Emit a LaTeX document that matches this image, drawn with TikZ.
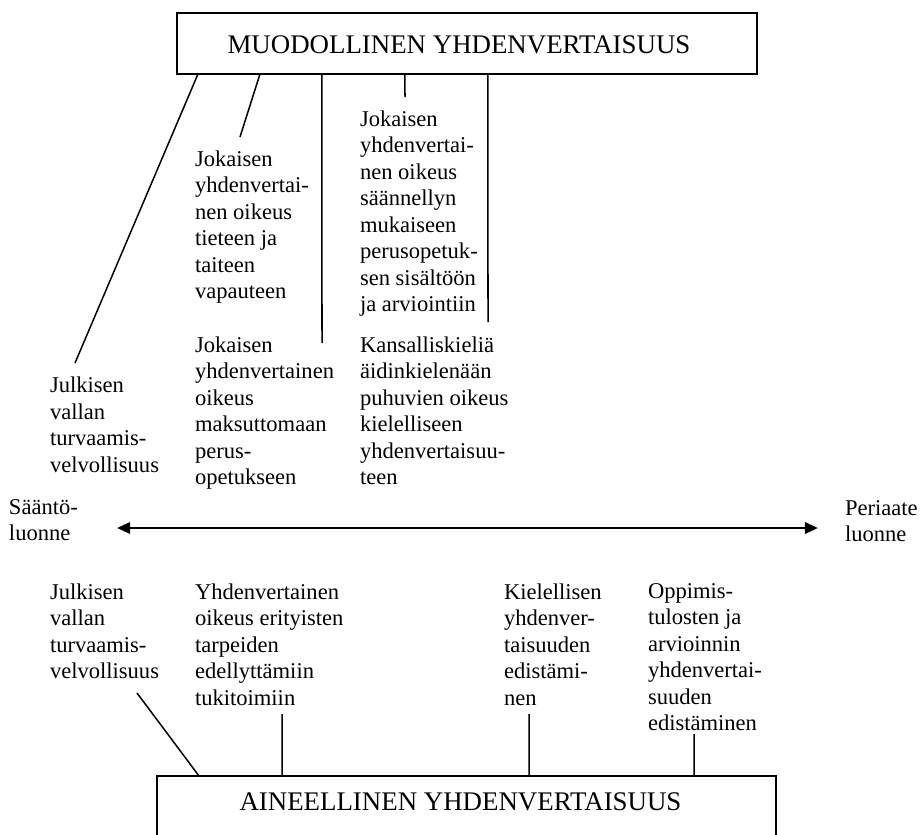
\documentclass[tikz,border=0pt]{standalone}
\usepackage{fontspec}
\setmainfont{Liberation Serif}
\usetikzlibrary{calc,arrows.meta}
\begin{document}
\begin{tikzpicture}[x=0.532pt,y=-0.532pt,
  every node/.style={inner sep=0pt, outer sep=0pt},
  txt/.style={anchor=north west, align=left, font=\fontsize{12}{14.1}\selectfont},
  title/.style={anchor=base, font=\fontsize{14.3}{16}\selectfont},
  frame/.style={draw, line width=1pt, minimum height=32.5pt},
  conn/.style={line width=0.8pt},
  axis/.style={line width=1.4pt, {Triangle[length=7pt,width=6pt]}-{Triangle[length=7pt,width=6pt]}}]
\useasboundingbox (0,0) rectangle (920,834);
\clip (0,0) rectangle (920,834);

% the two main boxes
\node[frame, minimum width=308.6pt] (mb) at (467,43.5) {};
\node[title] (mt) at (459,53) {MUODOLLINEN YHDENVERTAISUUS};
\node[frame, minimum width=329.3pt] (ab) at (466.5,806.5) {};
\node[title] (at) at (460.5,810) {AINEELLINEN YHDENVERTAISUUS};

% upper texts
\node[txt] (uA) at (50,377) {Julkisen\\vallan\\turvaamis-\\velvollisuus};
\node[txt] (uB) at (195,150.5) {Jokaisen\\yhdenvertai-\\nen oikeus\\tieteen ja\\taiteen\\vapauteen};
\node[txt] (uC) at (195,336.5) {Jokaisen\\yhdenvertainen\\oikeus\\maksuttomaan\\perus-\\opetukseen};
\node[txt] (uD) at (360,110.5) {Jokaisen\\yhdenvertai-\\nen oikeus\\säännellyn\\mukaiseen\\perusopetuk-\\sen sisältöön\\ja arviointiin};
\node[txt] (uE) at (360,336.5) {Kansalliskieliä\\äidinkielenään\\puhuvien oikeus\\kielelliseen\\yhdenvertaisuu-\\teen};

% axis
\node[txt] (sl) at (9,499.5) {Sääntö-\\luonne};
\node[txt] (pl) at (845,500.5) {Periaate\\luonne};
\coordinate (axL) at (117,528);
\coordinate (axR) at (818,528);
\draw[axis] (axL) -- (axR);

% lower texts
\node[txt] (lF) at (50,583.5) {Julkisen\\vallan\\turvaamis-\\velvollisuus};
\node[txt] (lG) at (195,583.5) {Yhdenvertainen\\oikeus erityisten\\tarpeiden\\edellyttämiin\\tukitoimiin};
\node[txt] (lH) at (504,583.5) {Kielellisen\\yhdenver-\\taisuuden\\edistämi-\\nen};
\node[txt] (lI) at (648,583.5) {Oppimis-\\tulosten ja\\arvioinnin\\yhdenvertai-\\suuden\\edistäminen};

% free ends of the upper connectors
\coordinate (eA) at (75,363);
\coordinate (eB) at (240,137);
\coordinate (eC) at (322,343);
\coordinate (eD) at (405,97);
\coordinate (eE) at (488,322);
\draw[conn] ($(mb.south west)+(21,0)$) -- (eA);
\draw[conn] ($(mb.south west)+(83,0)$) -- (eB);
\draw[conn] ($(mb.south west)+(145,0)$) -- (eC);
\draw[conn] ($(mb.south west)+(228,0)$) -- (eD);
\draw[conn] ($(mb.south west)+(311,0)$) -- (eE);

% free ends of the lower connectors
\coordinate (fF) at (137,693);
\coordinate (fG) at (282,714);
\coordinate (fH) at (529,714);
\coordinate (fI) at (694,734);
\draw[conn] (fF) -- ($(ab.north west)+(42,0)$);
\draw[conn] (fG) -- ($(ab.north west)+(125,0)$);
\draw[conn] (fH) -- ($(ab.north west)+(372,0)$);
\draw[conn] (fI) -- ($(ab.north west)+(537,0)$);
\end{tikzpicture}
\end{document}
